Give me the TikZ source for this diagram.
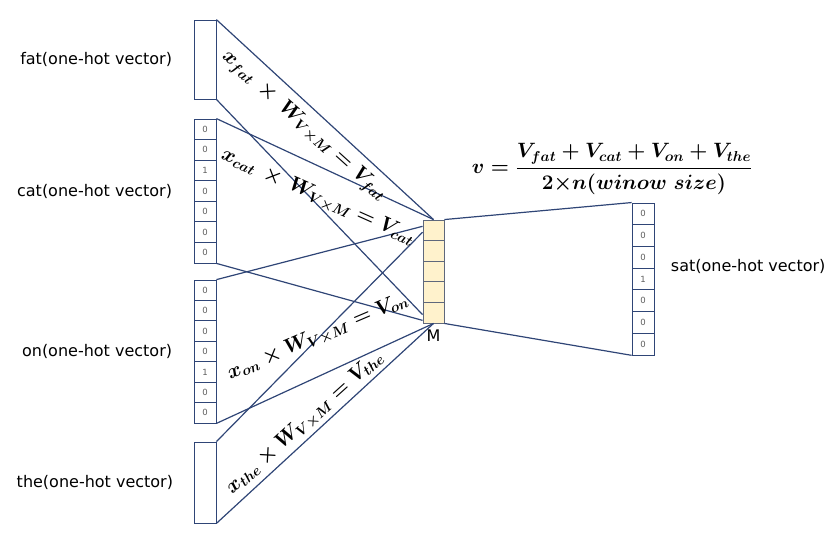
\documentclass[tikz,border=0pt]{standalone}
\usepackage[no-math]{fontspec}
\usepackage{amsmath}
\usepackage{tikz}
\usetikzlibrary{positioning}
\newfontfamily\labelfont{DejaVu Sans}
\definecolor{navy}{RGB}{47,69,118}
\definecolor{digitgray}{RGB}{95,95,95}
\definecolor{embfill}{RGB}{255,242,204}
\tikzset{
  cell/.style={rectangle, draw=navy, fill=white, line width=0.8pt,
               minimum width=22pt, minimum height=20.6pt, inner sep=0pt,
               font=\labelfont\fontsize{8.5}{9}\selectfont, text=digitgray},
  emb/.style={rectangle, draw=navy!40!gray, fill=embfill, line width=0.9pt,
              minimum width=21pt, minimum height=20.6pt, inner sep=0pt},
  blank/.style={rectangle, draw=navy, fill=white, line width=0.8pt,
                minimum width=22pt, inner sep=0pt},
  word/.style={font=\labelfont\fontsize{16}{19}\selectfont},
  eq/.style={font=\fontsize{19.5}{24}\selectfont\boldmath, inner sep=0pt},
  e/.style={line width=1.2pt, navy},
}

\begin{document}
\begin{tikzpicture}[x=1pt, y=-1pt]
  \useasboundingbox (0,0) rectangle (836,539);
  % input words
  \node[blank, minimum height=79pt] (fat) at (205,59.5) {};
  \foreach \v [count=\i] in {0,0,1,0,0,0,0}
    \node[cell] (cat\i) at (205,{108.7+20.57*\i}) {\v};
  \foreach \v [count=\i] in {0,0,0,0,1,0,0}
    \node[cell, minimum height=20.4pt] (on\i) at (205,{269.8+20.43*\i}) {\v};
  \node[blank, minimum height=81pt] (the) at (205,482.5) {};
  % hidden layer
  \foreach \i in {1,...,5}
    \node[emb] (m\i) at (433.5,{209.7+20.6*\i}) {};
  % output word
  \foreach \v [count=\i] in {0,0,0,1,0,0,0}
    \node[cell, minimum height=21.7pt] (sat\i) at (643,{192.1+21.71*\i}) {\v};
  \draw[e] (fat.north east)--(m1.north); \draw[e] (fat.south east)--(m5.190);
  \draw[e] (cat1.north east)--(m1.north); \draw[e] (cat7.south east)--(m5.215);
  \draw[e] (on1.north east)--(m1.160); \draw[e] (on7.south east)--(m5.south);
  \draw[e] (the.north east)--(m1.190); \draw[e] (the.south east)--(m5.south);
  \draw[e] (m1.north east)--(sat1.north west);
  \draw[e] (m5.south east)--(sat7.south west);
  \node[word, left=18pt of fat] {fat(one-hot vector)};
  \node[word, left=18pt of cat4] {cat(one-hot vector)};
  \node[word, left=18pt of on4] {on(one-hot vector)};
  \node[word, left=17pt of the] {the(one-hot vector)};
  \node[word, right=13pt of sat4, yshift=12pt] {sat(one-hot vector)};
  \node[word, below=3pt of m5] {M};
  \node[eq, rotate=-42] (tfat) at (304,126) {$x_{fat} \,\times\, W_{V\times M} = V_{fat}$};
  \node[eq, rotate=-24] (tcat) at (318,197) {$x_{cat} \,\times\, W_{V\times M} = V_{cat}$};
  \node[eq, rotate=23] (ton) at (318,337) {$x_{on} \times W_{V\times M} = V_{on}$};
  \node[eq, rotate=42] (tthe) at (305,423) {$x_{the} \times W_{V\times M} = V_{the}$};
  \node[eq, font=\fontsize{22}{26}\selectfont\boldmath] (avg) at (612,169)
    {$v=\dfrac{V_{fat}+V_{cat}+V_{on}+V_{the}}{2{\times}n(winow\ size)}$};
\end{tikzpicture}
\end{document}
